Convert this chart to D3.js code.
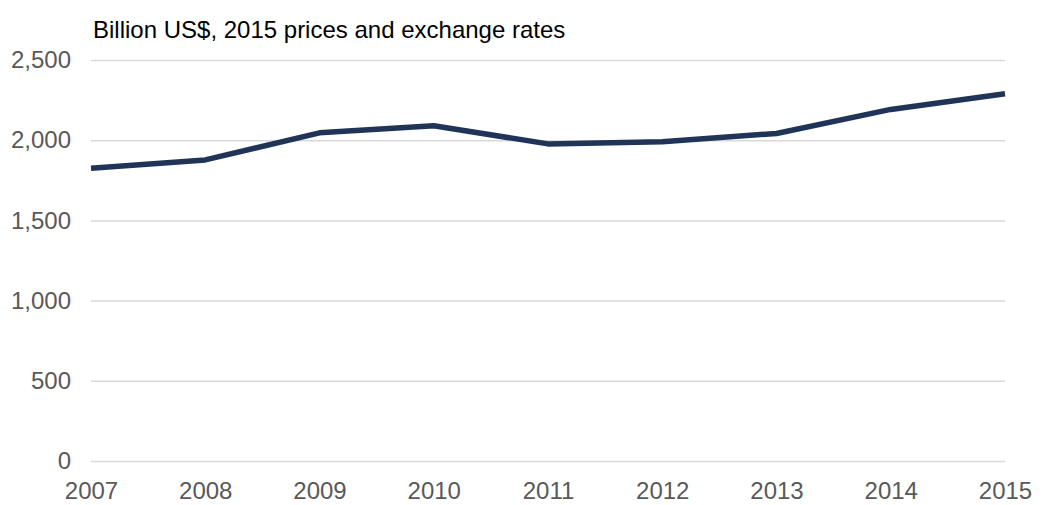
<!DOCTYPE html>
<html>
<head>
<meta charset="utf-8">
<script src="https://cdn.jsdelivr.net/npm/d3@7"></script>
<style>
  body { margin: 0; background: #fff; overflow: hidden; }
  text { font-family: "Liberation Sans", Arial, sans-serif; }
</style>
</head>
<body>
<script>
const years = ['2007', '2008', '2009', '2010', '2011', '2012', '2013', '2014', '2015'];
const values = [1825, 1877, 2046, 2090, 1977, 1991, 2042, 2192, 2290];
const yTicks = [0, 500, 1000, 1500, 2000, 2500];
const titleText = 'Billion US$, 2015 prices and exchange rates';

const width = 1042;
const height = 505;
const margin = { top: 60, right: 37, bottom: 44, left: 91 };
const innerWidth = width - margin.left - margin.right;
const innerHeight = height - margin.top - margin.bottom;

const svg = d3.select('body')
  .append('svg')
  .attr('width', width)
  .attr('height', height)
  .style('display', 'block');

const chart = svg.append('g')
  .attr('transform', `translate(${margin.left}, ${margin.top})`);

// title above the plot
svg.append('text')
  .attr('x', 93)
  .attr('y', 38)
  .attr('font-size', 24)
  .attr('fill', '#000')
  .text(titleText);

const xScale = d3.scalePoint()
  .domain(years)
  .range([0, innerWidth]);

const yScale = d3.scaleLinear()
  .domain([0, 2500])
  .range([innerHeight, 0]);

// gridlines + y labels
const yAxis = d3.axisLeft(yScale)
  .tickValues(yTicks)
  .tickFormat(d3.format(','))
  .tickSize(-innerWidth)
  .tickPadding(20);

const yAxisG = chart.append('g').call(yAxis);
yAxisG.select('.domain').remove();
yAxisG.selectAll('.tick line').attr('stroke', '#d9d9d9').attr('stroke-width', 1.5);
yAxisG.selectAll('.tick text')
  .attr('font-size', 24)
  .attr('fill', '#595959');

const xAxis = d3.axisBottom(xScale).tickSize(0).tickPadding(21);
const xAxisG = chart.append('g')
  .attr('transform', `translate(0, ${innerHeight})`)
  .call(xAxis);
xAxisG.select('.domain').remove();
xAxisG.selectAll('.tick text')
  .attr('font-size', 24)
  .attr('fill', '#595959');

const line = d3.line()
  .x((d, i) => xScale(years[i]))
  .y(d => yScale(d));

chart.append('path')
  .datum(values)
  .attr('fill', 'none')
  .attr('stroke', '#203457')
  .attr('stroke-width', 5.5)
  .attr('stroke-linejoin', 'round')
  .attr('d', line);
</script>
</body>
</html>
